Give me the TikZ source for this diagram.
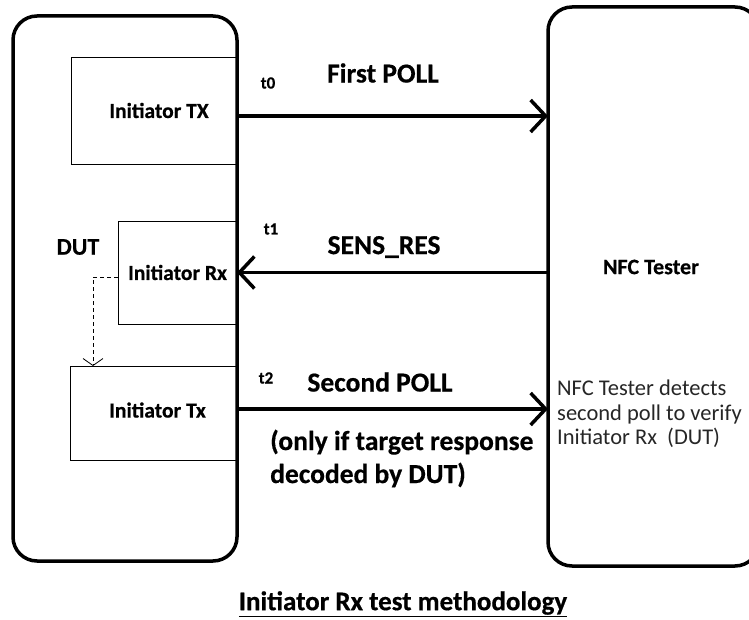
\documentclass[tikz,border=0pt]{standalone}
\usepackage{fontspec}
\setmainfont{Carlito}[BoldFeatures={FakeBold=0.5}]
\usetikzlibrary{arrows.meta,calc}
\begin{document}
\begin{tikzpicture}[x=1pt,y=-1pt,
  outerbox/.style={draw, line width=3.5pt, rounded corners=24pt, inner sep=0pt, outer sep=0pt},
  subbox/.style={draw, line width=0.9pt, inner sep=0pt, outer sep=0pt, font=\fontsize{21.5}{24}\selectfont\bfseries},
  msg/.style={line width=3.5pt, -{Straight Barb[length=15pt,width=32pt]}},
  dasharrow/.style={line width=0.8pt, dash pattern=on 4pt off 3pt, -{Straight Barb[length=7pt,width=20pt]}},
  biglabel/.style={inner sep=0pt, font=\fontsize{27.5}{33}\selectfont\bfseries},
  tlabel/.style={inner sep=0pt, font=\fontsize{17}{20}\selectfont\bfseries},
]
\useasboundingbox (0,0) rectangle (749,620);
% main boxes
\node[outerbox, minimum width=224pt, minimum height=545pt] (DUT) at (125,288.5) {};
\node[outerbox, minimum width=211pt, minimum height=559pt] (NFC) at (653.5,286.5) {};
% inner boxes
\node[subbox, minimum width=166pt, minimum height=107pt] (TX) at (154,110.5) {\hspace*{10pt}Initiator TX};
\node[subbox, minimum width=119pt, minimum height=103pt] (RX) at (177.5,272.5) {Initiator Rx};
\node[subbox, minimum width=167pt, minimum height=94pt] (TX2) at (153.5,413) {\raisebox{6pt}{\hspace*{8pt}Initiator Tx}};
% box labels
\node[inner sep=0pt, font=\fontsize{24}{28}\selectfont\bfseries] (dutlabel) at (78,247) {DUT};
\node[inner sep=0pt, font=\fontsize{22}{26}\selectfont\bfseries] (nfclabel) at (651,267) {NFC Tester};
\node[inner sep=0pt, anchor=west, align=left, text=black!85, font=\fontsize{22.5}{24.5}\selectfont] (nfcnote) at (557,414)
  {NFC Tester detects\\second poll to verify\\Initiator Rx\ \ (DUT)};
% messages
\draw[msg] ($(TX.east)+(0,5.5)$) coordinate (m1) -- (m1 -| NFC.west);
\draw[msg] (RX.east -| NFC.west) -- (RX.east);
\draw[msg] ($(TX2.east)+(0,-4)$) coordinate (m3) -- (m3 -| NFC.west);
% dashed internal arrow
\draw[dasharrow] ($(RX.west)+(0,4.5)$) -| ($(TX2.north west)+(23,0)$);
% message labels
\node[tlabel] (t0) at (268,83) {t0};
\node[biglabel] (poll1) at (383,73) {First POLL};
\node[tlabel] (t1) at (271,229) {t1};
\node[biglabel] (sensres) at (384,247) {SENS\_RES};
\node[tlabel] (t2) at (266,378) {t2};
\node[biglabel] (poll2) at (380,382) {Second POLL};
\node[biglabel, anchor=west, align=left] (cond) at (270,458.5) {(only if target response\\decoded by DUT)};
% caption
\node[inner sep=0pt, font=\fontsize{27}{30}\selectfont\bfseries] (caption) at (403,604) {\underline{Initiator Rx test methodology}};
\end{tikzpicture}
\end{document}
